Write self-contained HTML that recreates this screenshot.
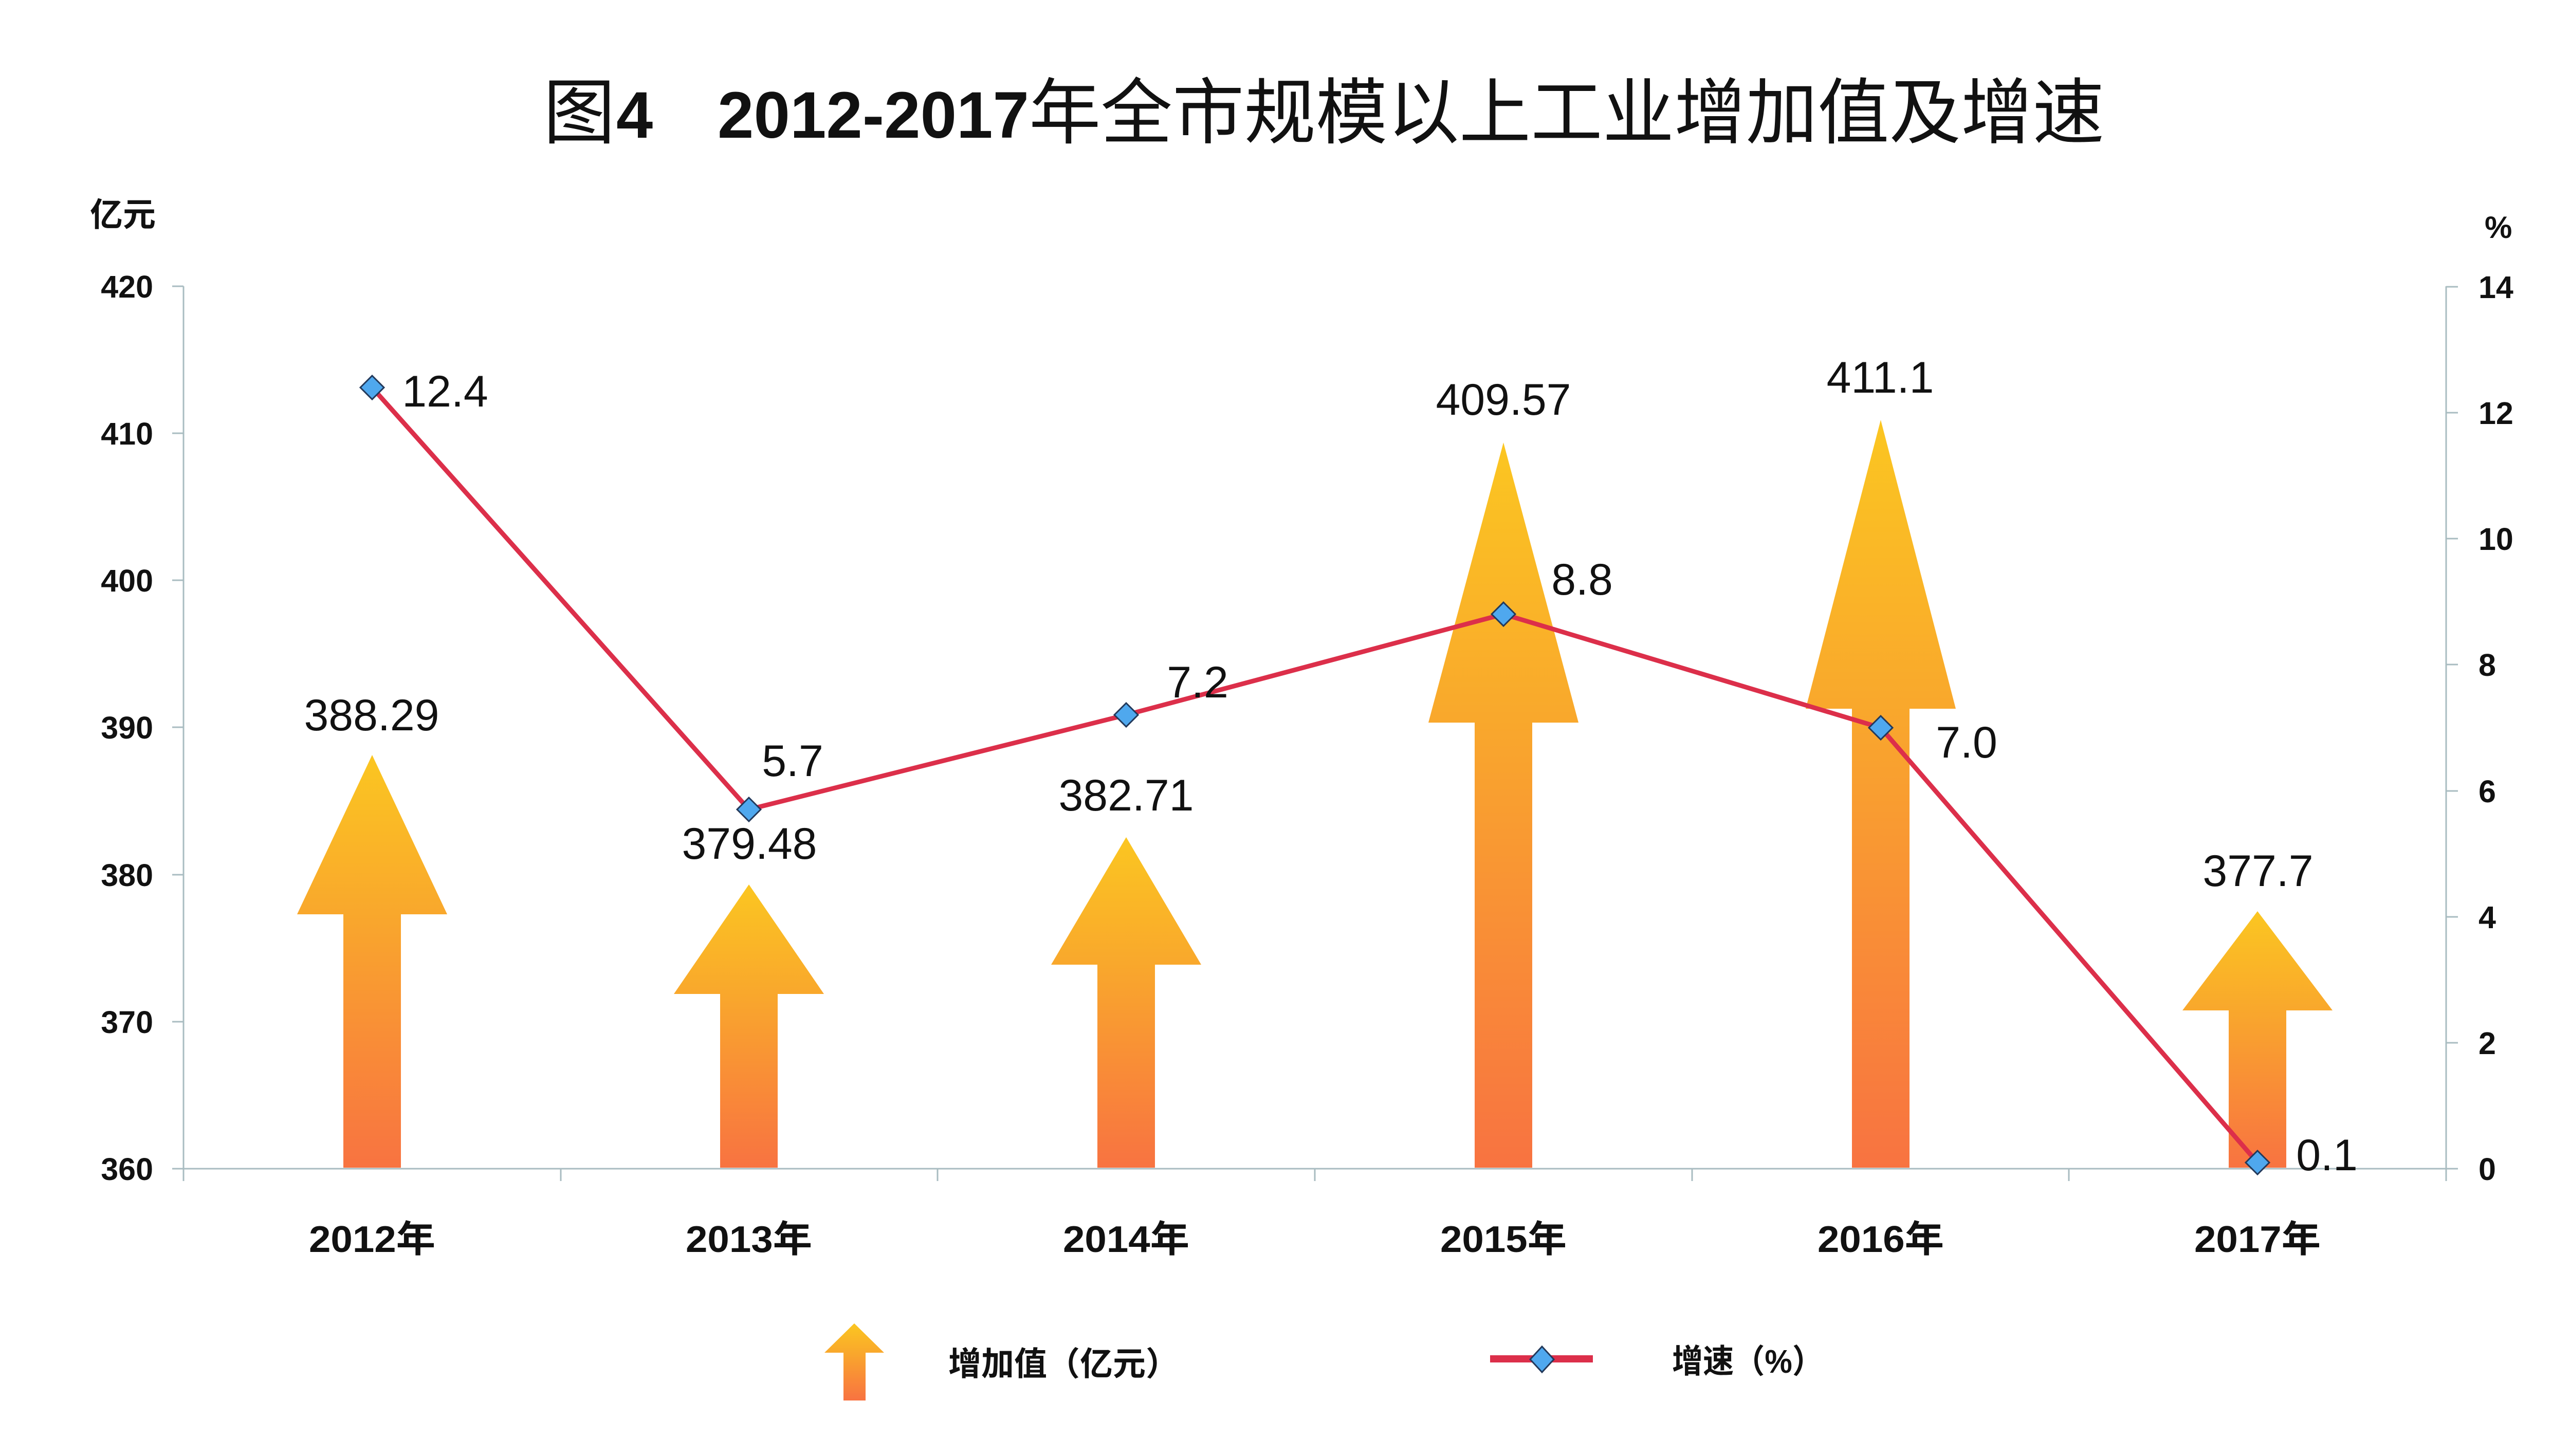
<!DOCTYPE html>
<html>
<head>
<meta charset="utf-8">
<style>
  html, body { margin: 0; padding: 0; background: #ffffff; }
  svg { display: block; }
  .cjk { font-family: "Liberation Sans", "Noto Sans CJK SC", "WenQuanYi Zen Hei", sans-serif; }
  .num { font-family: "Liberation Sans", sans-serif; }
</style>
</head>
<body>
<svg width="5133" height="2833" viewBox="0 0 5133 2833" xmlns="http://www.w3.org/2000/svg">
  <defs>
    <linearGradient id="ag" x1="0" y1="0" x2="0" y2="1">
      <stop offset="0" stop-color="#FBC621"/>
      <stop offset="0.38" stop-color="#F9A82C"/>
      <stop offset="0.7" stop-color="#F98C37"/>
      <stop offset="1" stop-color="#F87341"/>
    </linearGradient>
  </defs>
  <rect x="0" y="0" width="5133" height="2833" fill="#ffffff"/>

  <!-- Title -->
  <text x="1057" y="268" class="cjk" font-size="140" fill="#111" textLength="140" lengthAdjust="spacingAndGlyphs">图</text>
  <text x="1199" y="268" class="num" font-size="128" font-weight="bold" fill="#111">4</text>
  <text x="1396" y="268" class="num" font-size="128" font-weight="bold" fill="#111" textLength="606" lengthAdjust="spacingAndGlyphs">2012-2017</text>
  <text x="2002" y="268" class="cjk" font-size="140" fill="#111" textLength="2092" lengthAdjust="spacingAndGlyphs">年全市规模以上工业增加值及增速</text>

  <!-- Axis unit labels -->
  <text x="175" y="440" class="cjk" font-size="64" font-weight="bold" fill="#111" textLength="128" lengthAdjust="spacingAndGlyphs">亿元</text>
  <text x="4834" y="463" class="num" font-size="60" font-weight="bold" fill="#111">%</text>

  <!-- Axes -->
  <g stroke="#A9BCC1" stroke-width="3" fill="none">
    <line x1="357" y1="557" x2="357" y2="2298"/>
    <line x1="4759" y1="557" x2="4759" y2="2298"/>
    <line x1="357" y1="2274" x2="4759" y2="2274"/>
    <!-- left ticks -->
    <line x1="335" y1="557" x2="357" y2="557"/>
    <line x1="335" y1="843" x2="357" y2="843"/>
    <line x1="335" y1="1129" x2="357" y2="1129"/>
    <line x1="335" y1="1415" x2="357" y2="1415"/>
    <line x1="335" y1="1702" x2="357" y2="1702"/>
    <line x1="335" y1="1988" x2="357" y2="1988"/>
    <line x1="335" y1="2274" x2="357" y2="2274"/>
    <!-- right ticks -->
    <line x1="4759" y1="558" x2="4782" y2="558"/>
    <line x1="4759" y1="803" x2="4782" y2="803"/>
    <line x1="4759" y1="1048" x2="4782" y2="1048"/>
    <line x1="4759" y1="1293" x2="4782" y2="1293"/>
    <line x1="4759" y1="1539" x2="4782" y2="1539"/>
    <line x1="4759" y1="1784" x2="4782" y2="1784"/>
    <line x1="4759" y1="2029" x2="4782" y2="2029"/>
    <line x1="4759" y1="2274" x2="4782" y2="2274"/>
    <!-- category ticks -->
    <line x1="1091" y1="2274" x2="1091" y2="2298"/>
    <line x1="1824" y1="2274" x2="1824" y2="2298"/>
    <line x1="2558" y1="2274" x2="2558" y2="2298"/>
    <line x1="3292" y1="2274" x2="3292" y2="2298"/>
    <line x1="4025" y1="2274" x2="4025" y2="2298"/>
  </g>

  <!-- Left tick labels -->
  <g class="num" font-size="61" font-weight="bold" fill="#111" text-anchor="end">
    <text x="298" y="579">420</text>
    <text x="298" y="865">410</text>
    <text x="298" y="1151">400</text>
    <text x="298" y="1437">390</text>
    <text x="298" y="1724">380</text>
    <text x="298" y="2010">370</text>
    <text x="298" y="2296">360</text>
  </g>
  <!-- Right tick labels -->
  <g class="num" font-size="61" font-weight="bold" fill="#111">
    <text x="4822" y="580">14</text>
    <text x="4822" y="825">12</text>
    <text x="4822" y="1070">10</text>
    <text x="4822" y="1315">8</text>
    <text x="4822" y="1561">6</text>
    <text x="4822" y="1806">4</text>
    <text x="4822" y="2051">2</text>
    <text x="4822" y="2296">0</text>
  </g>

  <!-- Category labels -->
  <g class="cjk" font-size="72" font-weight="bold" fill="#111" text-anchor="middle">
    <text x="724" y="2436" textLength="246" lengthAdjust="spacingAndGlyphs">2012年</text>
    <text x="1457" y="2436" textLength="246" lengthAdjust="spacingAndGlyphs">2013年</text>
    <text x="2191" y="2436" textLength="246" lengthAdjust="spacingAndGlyphs">2014年</text>
    <text x="2925" y="2436" textLength="246" lengthAdjust="spacingAndGlyphs">2015年</text>
    <text x="3659" y="2436" textLength="246" lengthAdjust="spacingAndGlyphs">2016年</text>
    <text x="4392" y="2436" textLength="246" lengthAdjust="spacingAndGlyphs">2017年</text>
  </g>

  <!-- Arrows (bars) -->
  <g fill="url(#ag)">
    <!-- 2012: tip 1469, base 1779 -->
    <polygon points="724,1469 870,1779 780,1779 780,2272 668,2272 668,1779 578,1779"/>
    <!-- 2013: tip 1721, base 1934 -->
    <polygon points="1457,1721 1603,1934 1513,1934 1513,2272 1401,2272 1401,1934 1311,1934"/>
    <!-- 2014: tip 1629, base 1877 -->
    <polygon points="2191,1629 2337,1877 2247,1877 2247,2272 2135,2272 2135,1877 2045,1877"/>
    <!-- 2015: tip 861, base 1406 -->
    <polygon points="2925,861 3071,1406 2981,1406 2981,2272 2869,2272 2869,1406 2779,1406"/>
    <!-- 2016: tip 817, base 1379 -->
    <polygon points="3659,817 3805,1379 3715,1379 3715,2272 3603,2272 3603,1379 3513,1379"/>
    <!-- 2017: tip 1773, base 1966 -->
    <polygon points="4392,1773 4538,1966 4448,1966 4448,2272 4336,2272 4336,1966 4246,1966"/>
  </g>

  <!-- Line series -->
  <polyline points="724,754 1457,1575 2191,1391 2925,1195 3659,1416 4392,2262"
            fill="none" stroke="#DC2F4A" stroke-width="9" stroke-linejoin="round"/>
  <g fill="#4FA8EE" stroke="#23395A" stroke-width="3">
    <polygon points="724,731 747,754 724,777 701,754"/>
    <polygon points="1457,1552 1480,1575 1457,1598 1434,1575"/>
    <polygon points="2191,1368 2214,1391 2191,1414 2168,1391"/>
    <polygon points="2925,1172 2948,1195 2925,1218 2902,1195"/>
    <polygon points="3659,1393 3682,1416 3659,1439 3636,1416"/>
    <polygon points="4392,2239 4415,2262 4392,2285 4369,2262"/>
  </g>

  <!-- Data labels -->
  <g class="num" font-size="86" fill="#111" text-anchor="middle">
    <text x="723" y="1421">388.29</text>
    <text x="1458" y="1671">379.48</text>
    <text x="2191" y="1577">382.71</text>
    <text x="2925" y="807">409.57</text>
    <text x="3658" y="764">411.1</text>
    <text x="4393" y="1724">377.7</text>

    <text x="866" y="791">12.4</text>
    <text x="1542" y="1510">5.7</text>
    <text x="2330" y="1357">7.2</text>
    <text x="3078" y="1157">8.8</text>
    <text x="3826" y="1474">7.0</text>
    <text x="4527" y="2277">0.1</text>
  </g>

  <!-- Legend -->
  <polygon points="1662,2575 1720,2632 1684,2632 1684,2725 1641,2725 1641,2632 1604,2632" fill="url(#ag)"/>
  <text x="1845" y="2676" class="cjk" font-size="64" font-weight="bold" fill="#111" textLength="448" lengthAdjust="spacingAndGlyphs">增加值（亿元）</text>

  <line x1="2899" y1="2644" x2="3099" y2="2644" stroke="#DC2F4A" stroke-width="14"/>
  <polygon points="3000,2620 3023,2645 3000,2670 2977,2645" fill="#4FA8EE" stroke="#23395A" stroke-width="3"/>
  <text x="3253" y="2671" class="cjk" font-size="64" font-weight="bold" fill="#111" textLength="294" lengthAdjust="spacingAndGlyphs">增速（%）</text>
</svg>
</body>
</html>
